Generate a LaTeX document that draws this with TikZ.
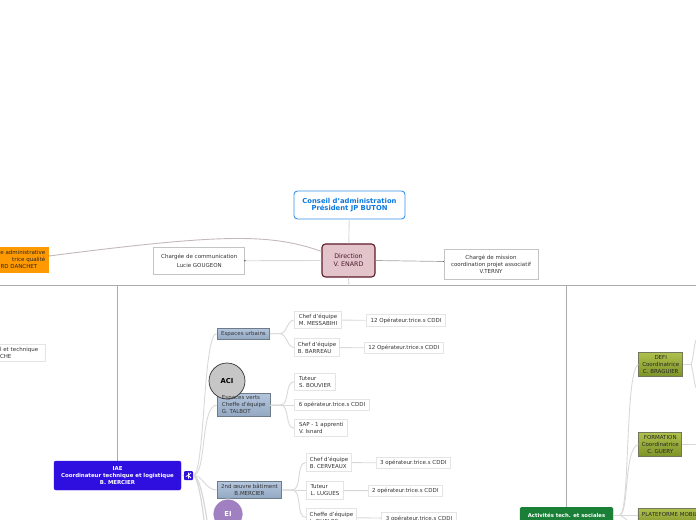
\documentclass[tikz,border=0pt]{standalone}
\usepackage{fontspec}
\setmainfont{DejaVu Sans}
\definecolor{linegray}{HTML}{D8D8D8}
\definecolor{framegray}{HTML}{E4E4E4}
\definecolor{commgray}{HTML}{C4C4C4}
\definecolor{rulegray}{HTML}{ABABAB}
\definecolor{txt}{HTML}{333333}
\definecolor{steelTop}{HTML}{B4C6DE}
\definecolor{steelBot}{HTML}{93A8C2}
\definecolor{steelEdge}{HTML}{6E7B88}
\definecolor{oliveTop}{HTML}{AEBF4C}
\definecolor{oliveBot}{HTML}{7E9428}
\definecolor{oliveEdge}{HTML}{72785A}
\definecolor{iaeblue}{HTML}{2F0EE0}
\definecolor{conseilblue}{HTML}{3A8FE8}
\definecolor{conseiltext}{HTML}{0A78E0}
\definecolor{dirfill}{HTML}{E3C4CB}
\definecolor{diredge}{HTML}{5C1A2A}
\definecolor{dirtext}{HTML}{4A1A2A}
\definecolor{acifill}{HTML}{C6C6C6}
\definecolor{eifill}{HTML}{A080C0}
\definecolor{actgreen}{HTML}{1A8038}
\definecolor{orangefill}{HTML}{FF9900}
\definecolor{curvecol}{HTML}{C4B8B8}
\tikzset{
  x=1bp,y=-1bp,
  box/.style={draw=#1,line width=1bp,fill=white,inner sep=0pt,align=center,text=txt,font=\fontsize{5.5bp}{7bp}\selectfont},
  box/.default=framegray,
  lbox/.style={box,align=left},
  steelbox/.style={draw=steelEdge,line width=0.9bp,top color=steelTop,bottom color=steelBot,inner sep=0pt,align=center,text=black!80,font=\fontsize{5.5bp}{7bp}\selectfont},
  olive/.style={draw=oliveEdge,line width=0.9bp,top color=oliveTop,bottom color=oliveBot,inner sep=0pt,align=center,text=black!85,font=\fontsize{5.5bp}{7bp}\selectfont},
  link/.style={draw=linegray,line width=0.9bp},
  rule/.style={draw=rulegray,line width=0.8bp},
}
\newcommand{\placebox}[7][box]{\node[#1,minimum width=#4-#3 bp,minimum height=#6-#5 bp] (#2) at ({(#3+#4)/2},{(#5+#6)/2}) {#7};}
\begin{document}
\begin{tikzpicture}
\useasboundingbox (0,0) rectangle (696,520);
\clip (0,0) rectangle (696,520);
\coordinate (ruleL) at (0,285.5);
\coordinate (ruleR) at (696,285.5);
\coordinate (ruleIAE) at (117.5,285.5);
\coordinate (ruleMid) at (349,285.5);
\coordinate (ruleAct) at (566,285.5);
\draw[rule] (ruleL) -- (ruleR);

% top
\node[draw=conseilblue,line width=0.9bp,rounded corners=3.5bp,fill=white,align=center,text=conseiltext,font=\fontsize{6.8bp}{7.8bp}\selectfont\bfseries,minimum width=111bp,minimum height=28bp,inner sep=0pt] (conseil) at (349.5,205) {Conseil d'administration\\Président JP BUTON};
\node[draw=diredge,line width=1.1bp,rounded corners=3.5bp,fill=dirfill,align=center,text=dirtext,font=\fontsize{6.3bp}{8bp}\selectfont,minimum width=53bp,minimum height=33bp,inner sep=0pt] (direction) at (348.5,260.5) {Direction\\V. ENARD};
\placebox[box=commgray,font=\fontsize{5.5bp}{8.5bp}\selectfont]{comm}{153.5}{245}{246.5}{275}{Chargée de communication\\Lucie GOUGEON}
\placebox[box=commgray]{mission}{443}{539}{249}{280}{Chargé de mission\\coordination projet associatif\\V.TERNY}
\node[fill=orangefill,draw=orangefill,inner sep=0pt,text=black!85,text width=55bp,align=right,minimum width=60bp,minimum height=25bp,anchor=east,font=\fontsize{5.5bp}{7bp}\selectfont] (assist) at (48,259.5) {e administrative\\trice qualité\hspace*{13bp}\\RD DANCHET\hspace*{8bp}};

\draw[link] (conseil) -- (direction);
\draw[link] (direction.south) -- (ruleMid);
\draw[draw=gray!70,line width=0.7bp] (direction.east) -- ([yshift=-1bp]mission.west |- direction.east);
\fill[black!60] ([yshift=-1bp]mission.west |- direction.east) circle (0.6bp);
\draw[link] (direction.west) -- (comm.east);
\fill[black] (comm.east) circle (0.6bp);
\coordinate (assistEnd) at ([yshift=3.5bp,xshift=1bp]assist.east);
\draw[draw=curvecol,line width=0.9bp] ([yshift=-8bp]direction.north west) .. controls (270,233) and (220,234) .. (assistEnd);
\fill[black!50] (assistEnd) circle (0.5bp);

% left side
\placebox[box,text width=65bp,align=left]{tech}{-20}{45}{344}{362}{\hspace*{20bp}l et technique\\\hspace*{20bp}CHE}
\draw[rule] (ruleIAE) -- (117.5,461);
\draw[rule] (ruleAct) -- (566,507);

\node[fill=iaeblue,draw=iaeblue,rounded corners=2bp,inner sep=0pt,text=white,align=center,font=\fontsize{5.4bp}{6.8bp}\selectfont\bfseries,minimum width=127bp,minimum height=29bp] (iae) at (117.5,475.5) {IAE\\Coordinateur technique et logistique\\B. MERCIER};
\node[fill=iaeblue,rounded corners=1bp,inner sep=0pt,minimum size=9bp] (iaeicon) at (188.5,475.5) {};
\draw[white,line width=0.8bp] (185.8,476.5) -- (188,475.5) -- (191,473) (188.5,472.5) -- (188.5,478.5) (188.5,475.5) -- (191,478);
\draw[link] (iae.east) -- (iaeicon.west);

% branches
\placebox[steelbox]{urb}{217}{270}{327.5}{340}{Espaces urbains}
\placebox[steelbox]{verts}{217}{270.5}{392.5}{417.5}{}
\placebox[steelbox]{oeuvre}{217}{282}{481}{499}{2nd œuvre bâtiment\\B.MERCIER}

\draw[link] (iaeicon.east) .. controls (205,475) and (203,330) .. (urb.west);
\draw[link] (iaeicon.east) .. controls (207,475) and (200,405) .. (verts.west);
\draw[link] (iaeicon.east) .. controls (203,475) and (205,490) .. (oeuvre.west);
\coordinate (iaeDownA) at (207,520);
\coordinate (iaeDownB) at (204,520);
\draw[link,line width=1.2bp] (iaeicon.east) .. controls (199,476) and (203,495) .. (iaeDownA);
\draw[link,line width=1.2bp] (iaeicon.east) .. controls (197,476) and (201,495) .. (iaeDownB);

\placebox[lbox]{mess}{294}{342}{310.5}{329.5}{Chef d'équipe\\M. MESSABIHI}
\placebox[lbox]{barr}{294}{340}{338}{357}{Chef d'équipe\\B. BARREAU}
\placebox{op1}{366}{446}{314}{327}{12 Opérateur.trice.s CDDI}
\placebox{op2}{363.5}{444}{342}{354}{12 Opérateur.trice.s CDDI}
\placebox[lbox]{bouv}{294}{336}{372.5}{391}{Tuteur\\S. BOUVIER}
\placebox{six}{294}{370}{399}{411}{6 opérateur.trice.s CDDI}
\placebox[lbox]{sap}{294}{348.5}{419}{437.5}{SAP - 1 apprenti\\V. Isnard}
\placebox[lbox]{cerv}{306}{352}{453}{472}{Chef d'équipe\\B. CERVEAUX}
\placebox[lbox]{lug}{306}{344}{481}{500}{Tuteur\\L. LUGUES}
\placebox[lbox]{duf}{306}{357}{508}{527}{Cheffe d'équipe\\L. DUFLOS}
\placebox{op3}{375.5}{451}{457}{469}{3 opérateur.trice.s CDDI}
\placebox{op4}{367.5}{443}{484.5}{497}{2 opérateur.trice.s CDDI}
\placebox{op5}{381}{457}{512}{525}{3 opérateur.trice.s CDDI}

\foreach \p/\c in {urb/mess,urb/barr,verts/bouv,verts/sap,oeuvre/cerv,oeuvre/duf}{
  \draw[link] (\p.east) -- ++(10,0) coordinate (m) to[out=0,in=180,looseness=0.9] (\c.west);
}
\draw[link] (verts.east) -- (six.west);
\draw[link] (oeuvre.east) -- (lug.west);
\draw[link] (mess) -- (op1);
\draw[link] (barr) -- (op2);
\draw[link] (cerv) -- (op3);
\draw[link] (lug) -- (op4);
\draw[link] (duf) -- (op5);

\node[circle,draw=black!80,line width=0.7bp,fill=acifill,minimum size=36bp,inner sep=0pt,font=\fontsize{6.8bp}{8bp}\selectfont\bfseries] (aci) at (227,381) {ACI};
\node[circle,draw=white,line width=0.8bp,fill=eifill,text=white,minimum size=30bp,inner sep=0pt,font=\fontsize{6.8bp}{8bp}\selectfont\bfseries] (ei) at (228,514) {EI};
% the text of the box lies over the circle
\node[inner sep=0pt,align=left,text=black!80,font=\fontsize{5.5bp}{7bp}\selectfont] (vertstext) at (verts.center) {Espaces verts\\Cheffe d'équipe\\G. TALBOT};

% right side
\node[fill=actgreen,draw=actgreen,rounded corners=1.5bp,inner sep=0pt,text=white,font=\fontsize{5.3bp}{6.8bp}\selectfont\bfseries,minimum width=93bp,minimum height=24bp,anchor=north] (act) at (566.5,507) {\raisebox{7bp}{Activités tech. et sociales}};
\placebox[olive]{defi}{637.5}{684}{352}{377}{DEFI\\Coordinatrice\\C. BRAGUIER}
\placebox[olive]{form}{637.5}{683}{432}{457}{FORMATION\\Coordinatrice\\C. GUERY}
\node[olive,minimum width=70bp,minimum height=18bp,anchor=north west] (plat) at (637.5,508) {\raisebox{5bp}{\makebox[70bp][l]{\hspace{4bp}PLATEFORME MOBILE}}};

\coordinate (actOut) at (620,515);
\coordinate (actDown) at (627,520);
\draw[link] (act.east |- actOut) -- (actOut);
\draw[link] (actOut) .. controls (630,512) and (625,370) .. (defi.west);
\draw[link] (actOut) .. controls (629,512) and (624,448) .. (form.west);
\draw[link] (actOut) -- (plat.west |- actOut);
\draw[link] (actOut) -- (actDown);
\coordinate (defiUp) at (696,340);
\coordinate (defiDown) at (696,388);
\draw[link] (defi.east) -- ++(8,0) coordinate (dm) .. controls (694,355) and (694,345) .. (defiUp);
\draw[link] (dm) .. controls (694,375) and (694,383) .. (defiDown);
\coordinate (formOut) at (696,444.5);
\draw[link] (form.east) -- (formOut);
\end{tikzpicture}
\end{document}
